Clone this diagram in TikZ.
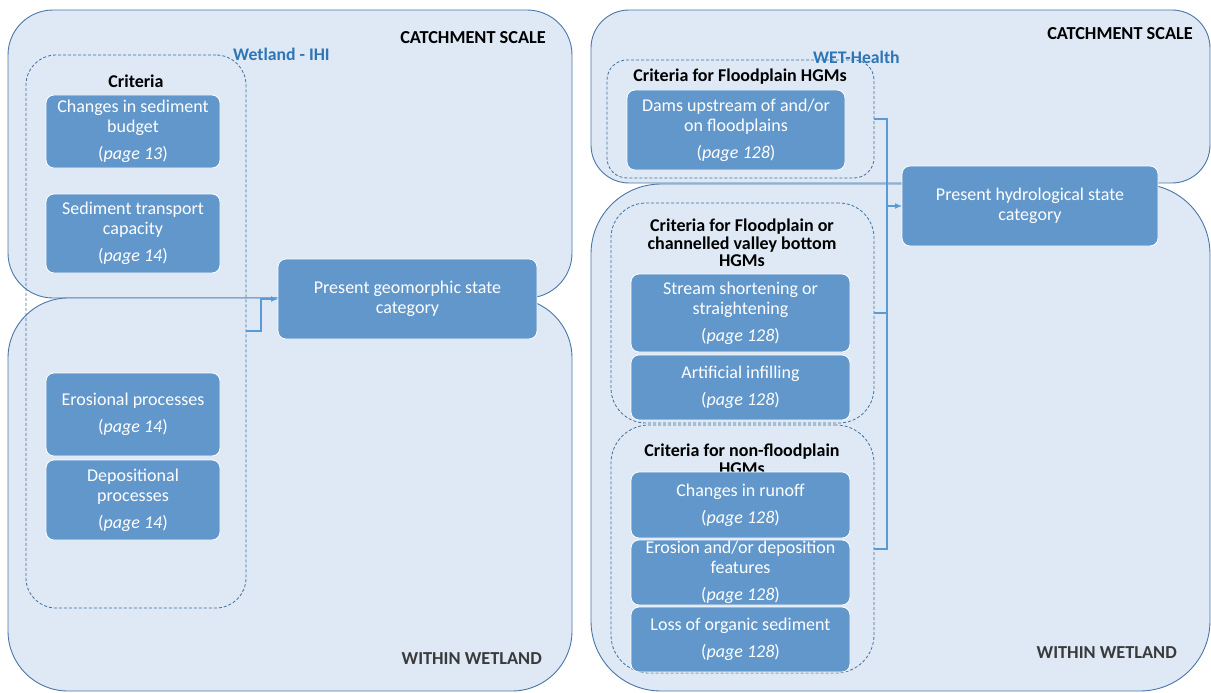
\documentclass[tikz,border=0pt]{standalone}
\usepackage{fontspec}
\setmainfont{Carlito}
\usetikzlibrary{arrows.meta}
\definecolor{panelfill}{HTML}{DEE9F5}
\definecolor{paneldraw}{HTML}{4A76A8}
\definecolor{boxfill}{HTML}{6197CB}
\definecolor{dashdraw}{HTML}{41719C}
\definecolor{titleblue}{HTML}{2E75B6}
\definecolor{connblue}{HTML}{5B9BD5}
\definecolor{darktext}{HTML}{3A3A3A}
\newcommand\diabody{\fontsize{18}{20}\selectfont}
\newcommand\diahead{\fontsize{18}{17.5}\selectfont\bfseries}
\tikzset{
  panel/.style={draw=paneldraw, fill=panelfill, line width=0.9pt, inner sep=0pt, outer sep=0pt},
  group/.style={draw=dashdraw, dash pattern=on 3pt off 2pt, line width=0.8pt, inner sep=0pt, outer sep=0pt},
  item/.style={draw=white, fill=boxfill, line width=0.8pt, rounded corners=8pt, inner sep=0pt, outer sep=0pt,
    text=white, align=center, font=\diabody},
  head/.style={inner sep=0pt, align=center, font=\diahead, text=black},
  scalelbl/.style={inner sep=0pt, anchor=east, font=\fontsize{18.3}{20}\selectfont\bfseries},
  toollbl/.style={inner sep=0pt, anchor=west, text=titleblue, font=\fontsize{17.7}{20}\selectfont\bfseries},
  conn/.style={draw=connblue, line width=1.1pt},
  arr/.style={conn, -{Latex[length=7pt,width=6pt]}}
}
\begin{document}
\begin{tikzpicture}[x=1pt,y=-1pt]
\useasboundingbox (0,0) rectangle (1211,693);

% scale panels
\node[panel, rounded corners=45pt, minimum width=564pt, minimum height=288pt] (lcatch) at (290,154) {};
\node[panel, rounded corners=60pt, minimum width=564pt, minimum height=393pt] (lwet) at (290,494.5) {};
\node[panel, rounded corners=38pt, minimum width=619pt, minimum height=173pt] (rcatch) at (900.5,96.5) {};
\node[panel, rounded corners=70pt, minimum width=619pt, minimum height=507pt] (rwet) at (900.5,437.5) {};

\node[scalelbl] (lcatchlbl) at (546,38) {CATCHMENT SCALE};
\node[scalelbl] (rcatchlbl) at (1193,34) {CATCHMENT SCALE};
\node[scalelbl, text=darktext] (lwetlbl) at (542,659) {WITHIN WETLAND};
\node[scalelbl, text=darktext] (rwetlbl) at (1177,653) {WITHIN WETLAND};

% criteria groups
\node[group, rounded corners=30pt, minimum width=220pt, minimum height=553pt] (ihi) at (136,331.5) {};
\node[group, rounded corners=20pt, minimum width=267pt, minimum height=118pt] (fp) at (740.5,119) {};
\node[group, rounded corners=35pt, minimum width=263pt, minimum height=220pt] (cv) at (742.5,313) {};
\node[group, rounded corners=38pt, minimum width=263pt, minimum height=248pt] (nf) at (742.5,549) {};

\node[toollbl] (ihilbl) at (233,54) {Wetland - IHI};
\node[toollbl] (wetlbl) at (813,57) {WET-Health};

\node[head] (ihihead) at (136,81) {Criteria};
\node[head] (fphead) at (740,77) {Criteria for Floodplain HGMs};
\node[head] (cvhead) at (742,243) {Criteria for Floodplain or\\channelled valley bottom\\HGMs};
\node[head] (nfhead) at (742,459) {Criteria for non-floodplain\\HGMs};

% Wetland-IHI criteria
\node[item, minimum width=174pt, minimum height=73pt] (sed) at (133,131.5)
  {Changes in sediment\\budget\\[7pt](\textit{page 13})};
\node[item, minimum width=174pt, minimum height=79pt] (trans) at (133,233.5)
  {Sediment transport\\capacity\\[7pt](\textit{page 14})};
\node[item, minimum width=174pt, minimum height=83pt] (ero) at (133,414.5)
  {Erosional processes\\[7pt](\textit{page 14})};
\node[item, minimum width=174pt, minimum height=80pt] (dep) at (133,500)
  {Depositional\\processes\\[7pt](\textit{page 14})};

% WET-Health criteria
\node[item, minimum width=218pt, minimum height=80pt] (dams) at (736,130)
  {Dams upstream of and/or\\on floodplains\\[7pt](\textit{page 128})};
\node[item, minimum width=219pt, minimum height=78pt] (stream) at (740.5,313)
  {Stream shortening or\\straightening\\[7pt](\textit{page 128})};
\node[item, minimum width=219pt, minimum height=65pt] (infill) at (740.5,387.5)
  {Artificial infilling\\[7pt](\textit{page 128})};
\node[item, minimum width=219pt, minimum height=66pt] (runoff) at (740.5,505)
  {Changes in runoff\\[7pt](\textit{page 128})};
\node[item, minimum width=219pt, minimum height=65pt] (erodep) at (740.5,572.5)
  {Erosion and/or deposition\\features\\[7pt](\textit{page 128})};
\node[item, minimum width=219pt, minimum height=65pt] (organic) at (740.5,639.5)
  {Loss of organic sediment\\[7pt](\textit{page 128})};

% result boxes
\node[item, minimum width=259pt, minimum height=80pt] (geo) at (407.5,299)
  {Present geomorphic state\\category};
\node[item, minimum width=256pt, minimum height=80pt] (hydro) at (1030,206)
  {Present hydrological state\\category};

% connectors
\coordinate (ihiout) at (246,331);
\draw[arr] (ihiout) -- ++(15,0) |- (geo.west);

\draw[conn] (fp.east) -- ++(13,0) coordinate (jn) -- (jn |- nf.east) -- (nf.east);
\draw[conn] (cv.east) -- (cv.east -| jn);
\draw[arr] (jn |- hydro.west) -- (hydro.west);
\end{tikzpicture}
\end{document}
